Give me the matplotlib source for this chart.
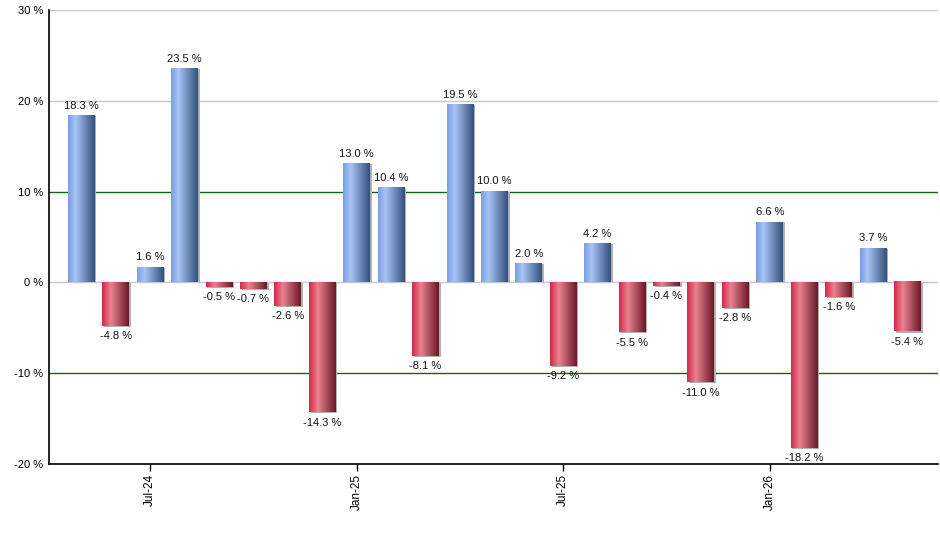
import numpy as np
import matplotlib
matplotlib.use("Agg")
import matplotlib.pyplot as plt
from matplotlib.colors import LinearSegmentedColormap
from matplotlib.patches import Rectangle

plt.rcParams["font.family"] = ["Liberation Sans", "DejaVu Sans"]

# monthly returns, May-24 .. May-26
values = [18.3, -4.8, 1.6, 23.5, -0.5, -0.7, -2.6, -14.3, 13.0, 10.4, -8.1,
          19.5, 10.0, 2.0, -9.2, 4.2, -5.5, -0.4, -11.0, -2.8, 6.6, -18.2,
          -1.6, 3.7, -5.4]
tick_pos = [2, 8, 14, 20]
tick_labels = ["Jul-24", "Jan-25", "Jul-25", "Jan-26"]
y_ticks = [-20, -10, 0, 10, 20, 30]

blue_cmap = LinearSegmentedColormap.from_list(
    "blue", [(0, "#7a9fe6"), (0.28, "#a8c4f5"), (1, "#34507c")])
red_cmap = LinearSegmentedColormap.from_list(
    "red", [(0, "#d3294b"), (0.33, "#e9828f"), (1, "#6a1829")])

grad = np.linspace(0, 1, 64).reshape(1, -1)

fig = plt.figure(figsize=(9.4, 5.5), dpi=100)
ax = fig.add_axes([0.052, 0.1564, 0.946, 0.8254])

width = 0.78
for i, v in enumerate(values):
    x0 = i - width / 2
    # small gray shadow
    ax.add_patch(Rectangle((x0 + 0.05, min(0, v) - (0.12 if v < 0 else 0)),
                           width, abs(v), color="#b0b0b0", zorder=2, lw=0))
    cmap = blue_cmap if v >= 0 else red_cmap
    ax.imshow(grad, cmap=cmap, aspect="auto", zorder=3,
              extent=(x0, x0 + width, min(0, v), max(0, v)),
              interpolation="bilinear")
    if v >= 0:
        ax.text(i, v + 0.6, f"{v:.1f} %", ha="center", va="bottom",
                fontsize=8, color="#111111", zorder=4)
    else:
        ax.text(i, v - 0.6, f"{v:.1f} %", ha="center", va="top",
                fontsize=8, color="#111111", zorder=4)

for y in y_ticks:
    if y in (10, -10):
        ax.axhline(y, color="#116811", lw=1, zorder=1)
    elif y != -20:
        ax.axhline(y, color="#c8c8c8", lw=1, zorder=1)

ax.set_xlim(-0.94, 24.89)
ax.set_ylim(-20, 30)
ax.set_yticks(y_ticks)
ax.set_yticklabels([f"{y} %" for y in y_ticks], fontsize=8)
ax.tick_params(axis="y", length=0, pad=4)
ax.set_xticks(tick_pos)
ax.set_xticklabels(tick_labels, rotation=90, fontsize=8.5)
ax.tick_params(axis="x", length=5, width=1, color="black", direction="out",
               pad=2)

for side in ("top", "right"):
    ax.spines[side].set_visible(False)
for side in ("left", "bottom"):
    ax.spines[side].set_color("black")
    ax.spines[side].set_linewidth(1.2)

fig.savefig("out.png", dpi=100)
